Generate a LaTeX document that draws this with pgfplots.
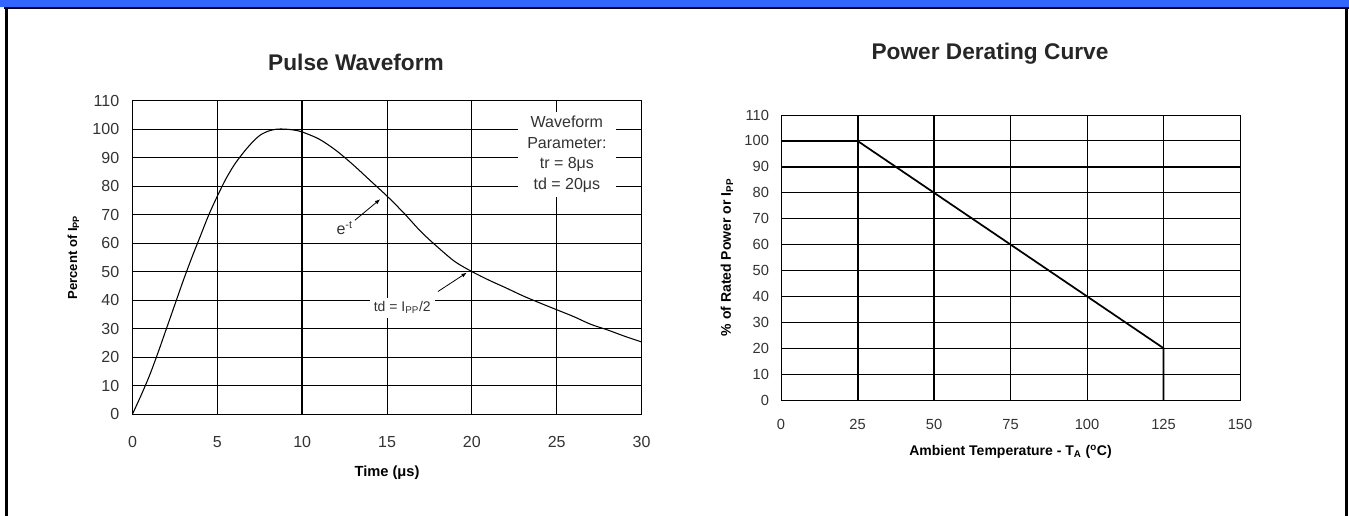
\documentclass[border=0pt]{standalone}
\usepackage{fontspec}
\setmainfont{Liberation Sans}
\usepackage{pgfplots}
\pgfplotsset{compat=1.18}
\usetikzlibrary{arrows.meta}
\definecolor{barblue}{RGB}{51,102,255}

\begin{document}
\begin{tikzpicture}
% page frame (1 px = 0.75pt)
\path[use as bounding box, fill=white] (0,0) rectangle (1011.75pt,387pt);
\fill[barblue] (0,382pt) rectangle (1011.75pt,387pt);
\draw[line width=1.7pt] (3pt,381.1pt) -- (1011.75pt,381.1pt);
\draw[line width=2.5pt] (5pt,381.5pt) -- (5pt,0);
\draw[line width=2.5pt] (1010pt,381.5pt) -- (1010pt,0);

% Pulse waveform
\begin{axis}[
    at={(99.4pt,76.5pt)}, anchor=south west,
    scale only axis, width=381.75pt, height=235pt,
    xmin=0, xmax=30, ymin=0, ymax=110,
    xtick={0,5,...,30}, ytick={0,10,...,110},
    grid=major,
    major grid style={black, line width=0.7pt},
    axis line style={line width=0.7pt},
    major tick length=0pt,
    extra x ticks={10}, extra x tick labels={},
    extra x tick style={major grid style={black, line width=1.4pt}},
    tick label style={font=\fontsize{12}{14}\selectfont, text=black!80},
    /pgf/number format/assume math mode=true,
    xticklabel style={anchor=center, yshift=-21pt},
    yticklabel style={xshift=-6.5pt},
    xlabel={\bfseries Time (μs)},
    xlabel style={at={(axis description cs:0.5,-0.188)}, anchor=center, font=\fontsize{11}{13}\selectfont},
    ylabel={\bfseries Percent of I\textsubscript{PP}},
    ylabel style={at={(axis description cs:-0.116,0.5)}, anchor=center, font=\fontsize{9.8}{12}\selectfont},
]
\addplot[black, line width=0.8pt, smooth] coordinates {
(0,0) (0.5,6.5) (1,13.5) (1.5,21.5) (2,30) (2.5,38.5) (3,47) (3.5,55) (4,62.5)
(4.5,70) (5,76.5) (5.5,82.5) (6,87.5) (6.5,91.5) (7,95) (7.5,97.8) (8,99.3)
(8.5,100) (9,100) (9.5,99.7) (10,99) (11,96.5) (12,92.5) (13,87.5) (14,82)
(15,76.5) (16,70.5) (17,64) (18,58.5) (19,53.5) (20,50) (21,47) (22,44.3)
(23,41.5) (24,39) (25,36.6) (26,34.2) (27,31.5) (28,29.5) (29,27.3) (30,25.3)
};
\node[fill=white, align=center, inner xsep=7pt, inner ysep=3pt,
      font=\fontsize{12}{15.5}\selectfont, text=black!80]
  at (axis cs:25.6,91.2) {Waveform\\Parameter:\\tr = 8μs\\td = 20μs};
\node[font=\fontsize{12}{14}\selectfont, text=black!80] at (axis cs:12.5,65.2) {e\textsuperscript{-t}};
\draw[-{Latex[length=4pt,width=3pt]}, line width=0.6pt] (axis cs:13.1,68) -- (axis cs:14.6,75.4);
\node[fill=white, inner sep=3pt, font=\fontsize{10.5}{13}\selectfont, text=black!80]
  at (axis cs:15.9,37.3) {td = I\textsubscript{PP}/2};
\draw[-{Latex[length=4pt,width=3pt]}, line width=0.6pt] (axis cs:18.0,43) -- (axis cs:19.7,49.6);
\end{axis}

% Power derating curve
\begin{axis}[
    at={(585.75pt,87pt)}, anchor=south west,
    scale only axis, width=344.25pt, height=213.75pt,
    xmin=0, xmax=150, ymin=0, ymax=110,
    xtick={0,25,...,150}, ytick={0,10,...,110},
    grid=major,
    major grid style={black, line width=0.6pt},
    axis line style={line width=0.6pt},
    major tick length=0pt,
    extra x ticks={25,50}, extra x tick labels={},
    extra x tick style={major grid style={black, line width=1.5pt}},
    extra y ticks={90}, extra y tick labels={},
    extra y tick style={major grid style={black, line width=1.5pt}},
    tick label style={font=\fontsize{11}{13}\selectfont, text=black!80},
    /pgf/number format/assume math mode=true,
    xticklabel style={anchor=center, yshift=-18.5pt},
    yticklabel style={xshift=-5.5pt},
    xlabel={\bfseries Ambient Temperature - T\textsubscript{A} (\textsuperscript{o}C)},
    xlabel style={at={(axis description cs:0.5,-0.182)}, anchor=center, font=\fontsize{10.5}{12}\selectfont},
    ylabel={\bfseries \% of Rated Power or I\textsubscript{PP}},
    ylabel style={at={(axis description cs:-0.118,0.5)}, anchor=center, font=\fontsize{10.5}{12}\selectfont},
]
\addplot[black, line width=1.3pt] coordinates {(0,100) (25,100) (125,20) (125,0)};
\end{axis}

% titles
\node[font=\fontsize{17}{20}\selectfont\bfseries, text=black!85] at (267pt,340.5pt) {Pulse Waveform};
\node[font=\fontsize{17}{20}\selectfont\bfseries, text=black!85] at (742.5pt,346.5pt) {Power Derating Curve};
\end{tikzpicture}
\end{document}
